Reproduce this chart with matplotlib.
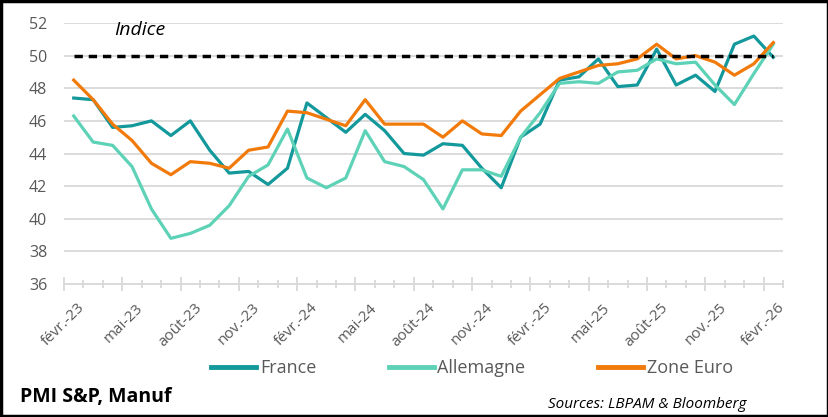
import matplotlib
matplotlib.use("Agg")
import matplotlib.pyplot as plt
from matplotlib.patches import Rectangle
from matplotlib.ticker import FixedLocator

months = ["févr.-23", "mars-23", "avr.-23", "mai-23", "juin-23", "juil.-23", "août-23", "sept.-23",
          "oct.-23", "nov.-23", "déc.-23", "janv.-24", "févr.-24", "mars-24", "avr.-24", "mai-24",
          "juin-24", "juil.-24", "août-24", "sept.-24", "oct.-24", "nov.-24", "déc.-24", "janv.-25",
          "févr.-25", "mars-25", "avr.-25", "mai-25", "juin-25", "juil.-25", "août-25", "sept.-25",
          "oct.-25", "nov.-25", "déc.-25", "janv.-26", "févr.-26"]

france = [47.4, 47.3, 45.6, 45.7, 46.0, 45.1, 46.0, 44.2, 42.8, 42.9, 42.1, 43.1,
          47.1, 46.2, 45.3, 46.4, 45.4, 44.0, 43.9, 44.6, 44.5, 43.1, 41.9, 45.0,
          45.8, 48.5, 48.7, 49.8, 48.1, 48.2, 50.4, 48.2, 48.8, 47.8, 50.7, 51.2, 49.9]

allemagne = [46.3, 44.7, 44.5, 43.2, 40.6, 38.8, 39.1, 39.6, 40.8, 42.6, 43.3, 45.5,
             42.5, 41.9, 42.5, 45.4, 43.5, 43.2, 42.4, 40.6, 43.0, 43.0, 42.6, 45.0,
             46.5, 48.3, 48.4, 48.3, 49.0, 49.1, 49.8, 49.5, 49.6, 48.2, 47.0, 48.9, 50.7]

zone_euro = [48.5, 47.3, 45.8, 44.8, 43.4, 42.7, 43.5, 43.4, 43.1, 44.2, 44.4, 46.6,
             46.5, 46.1, 45.7, 47.3, 45.8, 45.8, 45.8, 45.0, 46.0, 45.2, 45.1, 46.6,
             47.6, 48.6, 49.0, 49.4, 49.5, 49.8, 50.7, 49.8, 50.0, 49.6, 48.8, 49.5, 50.8]

threshold = 50
yticks = [36, 38, 40, 42, 44, 46, 48, 50, 52]

plt.rcParams['font.family'] = ['Open Sans', 'DejaVu Sans']

fig = plt.figure(figsize=(8.29, 4.17), dpi=100)
ax = fig.add_axes([64/829, 1-284/417, (783-64)/829, (284-23)/417])

x = list(range(len(months)))
ax.plot(x, france, color="#13989B", lw=2.3, label="France", solid_joinstyle="round", zorder=3)
ax.plot(x, allemagne, color="#5DD2B7", lw=2.3, label="Allemagne", solid_joinstyle="round", zorder=3)
ax.plot(x, zone_euro, color="#F17A0B", lw=2.3, label="Zone Euro", solid_joinstyle="round", zorder=4)
ax.plot([x[0], x[-1]], [threshold, threshold], color="black", lw=2.5,
        dashes=(2.4, 1.7), zorder=5)

ax.set_xlim(-0.5, len(months) - 0.5)
ax.set_ylim(36, 52)
ax.set_yticks(yticks)
ax.yaxis.grid(True, color="#D9D9D9", lw=1.3)
ax.set_axisbelow(True)
for s in ["left", "right", "top"]:
    ax.spines[s].set_visible(False)
ax.spines["bottom"].set_color("#D9D9D9")
ax.spines["bottom"].set_linewidth(1.3)

ax.xaxis.set_major_locator(FixedLocator([i - 0.5 for i in range(0, len(months) + 1, 3)]))
ax.xaxis.set_minor_locator(FixedLocator([i - 0.5 for i in range(0, len(months) + 1)]))
ax.set_xticklabels([])
ax.tick_params(axis="x", which="major", direction="inout", length=10, width=1.3, color="#D9D9D9")
ax.tick_params(axis="x", which="minor", direction="inout", length=6, width=1.3, color="#D9D9D9")
ax.tick_params(axis="y", length=0, labelsize=11.5, labelcolor="#595959", pad=12)

for i in range(0, len(months), 3):
    ax.text(i + 0.2, 35.0, months[i], rotation=45, ha="right", va="top",
            rotation_mode="anchor", fontsize=11, color="#595959")

ax.text(2.1, 51.55, "Indice", fontsize=14, style="italic", color="black", va="center")

leg = fig.legend(loc="center", bbox_to_anchor=(472/829, 1-368/417), ncol=3, frameon=False,
                 fontsize=13, handlelength=2.5, columnspacing=4.0, handletextpad=0.2,
                 labelcolor="#595959")
for h in leg.get_lines():
    h.set_linewidth(3.5)

fig.text(20/829, 1-397/417, "PMI S&P, Manuf", fontsize=14, fontweight="bold", va="center", ha="left")
fig.text(746/829, 1-405/417, "Sources: LBPAM & Bloomberg", fontsize=11, style="italic",
         va="center", ha="right")

fig.patches.append(Rectangle((0.0015, 0.002), 0.997, 0.995, transform=fig.transFigure,
                             fill=False, edgecolor="black", lw=2.5))

fig.savefig("out.png", dpi=100)
